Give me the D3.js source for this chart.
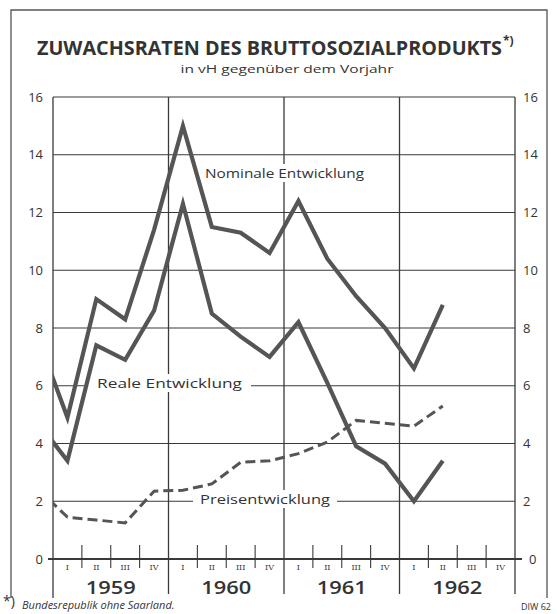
<!DOCTYPE html>
<html>
<head>
<meta charset="utf-8">
<script src="https://cdn.jsdelivr.net/npm/d3@7"></script>
<style>
  body { margin: 0; background: #fff; }
  svg { display: block; font-family: "Open Sans", "DejaVu Sans", sans-serif; }
</style>
</head>
<body>
<div id="chart"></div>
<script>
// quarters, 1958 IV (clipped at the left edge) to 1962 II
var quarters = ["1958 IV", "1959 I", "1959 II", "1959 III", "1959 IV",
  "1960 I", "1960 II", "1960 III", "1960 IV",
  "1961 I", "1961 II", "1961 III", "1961 IV",
  "1962 I", "1962 II"];
var nominal = [7.6, 4.9, 9.0, 8.3, 11.4, 15.0, 11.5, 11.3, 10.6, 12.4, 10.4, 9.1, 8.0, 6.6, 8.8];
var real = [4.7, 3.4, 7.4, 6.9, 8.6, 12.3, 8.5, 7.7, 7.0, 8.2, 6.1, 3.9, 3.3, 2.0, 3.4];
var prices = [2.4, 1.45, 1.35, 1.25, 2.35, 2.38, 2.6, 3.35, 3.4, 3.65, 4.05, 4.8, 4.7, 4.6, 5.3];
var years = ["1959", "1960", "1961", "1962"];
var quarterLabels = ["I", "II", "III", "IV"];
var yTicks = [0, 2, 4, 6, 8, 10, 12, 14, 16];

const width = 557, height = 614;
const plotLeft = 53, plotRight = 515, plotTop = 97, plotBottom = 559;

var svg = d3.select("#chart").append("svg")
  .attr("width", width)
  .attr("height", height);

// x: quarter index, 0 = start of 1959
var x = d3.scaleLinear().domain([0, 16]).range([plotLeft, plotRight]);
var y = d3.scaleLinear().domain([0, 16]).range([plotBottom, plotTop]);

var ink = "#3a3a3a";

// outer frame
svg.append("path")
  .attr("d", "M11,598 L11,10 L547,10 L547,598")
  .attr("fill", "none").attr("stroke", "#555").attr("stroke-width", 1.3);

// title
svg.append("text")
  .attr("x", 37).attr("y", 55)
  .attr("textLength", 465).attr("lengthAdjust", "spacingAndGlyphs")
  .attr("font-size", 19).attr("font-weight", 700).attr("fill", "#333")
  .text("ZUWACHSRATEN DES BRUTTOSOZIALPRODUKTS");
svg.append("text")
  .attr("x", 503).attr("y", 45)
  .attr("font-size", 12).attr("font-weight", 700).attr("fill", "#333")
  .text("*)");
svg.append("text")
  .attr("x", 287).attr("y", 73)
  .attr("text-anchor", "middle")
  .attr("textLength", 213).attr("lengthAdjust", "spacingAndGlyphs")
  .attr("font-size", 11.5).attr("fill", "#333")
  .text("in vH gegenüber dem Vorjahr");

// horizontal grid
svg.append("g").selectAll("line")
  .data(yTicks.filter(d => d > 0))
  .join("line")
  .attr("x1", plotLeft).attr("x2", plotRight)
  .attr("y1", d => y(d)).attr("y2", d => y(d))
  .attr("stroke", ink).attr("stroke-width", 1.1);

// vertical year lines
svg.append("g").selectAll("line")
  .data(d3.range(0, 17, 4))
  .join("line")
  .attr("x1", d => x(d)).attr("x2", d => x(d))
  .attr("y1", plotTop).attr("y2", d => d === 0 ? 598 : 594)
  .attr("stroke", ink).attr("stroke-width", 1.3);

// zero line
svg.append("line")
  .attr("x1", plotLeft - 5).attr("x2", plotRight + 7)
  .attr("y1", y(0)).attr("y2", y(0))
  .attr("stroke", ink).attr("stroke-width", 2.2);

// quarter ticks
svg.append("g").selectAll("line")
  .data(d3.range(1, 16).filter(d => d % 4 !== 0))
  .join("line")
  .attr("x1", d => x(d)).attr("x2", d => x(d))
  .attr("y1", y(0) - 14).attr("y2", y(0) + 9)
  .attr("stroke", ink).attr("stroke-width", 1.1);

// quarter labels
svg.append("g").selectAll("text")
  .data(d3.range(16))
  .join("text")
  .attr("x", d => x(d + 0.5)).attr("y", y(0) + 11)
  .attr("text-anchor", "middle")
  .attr("font-family", "'DejaVu Serif', serif")
  .attr("font-size", 8).attr("fill", ink)
  .text(d => quarterLabels[d % 4]);

// year labels
svg.append("g").selectAll("text")
  .data(years)
  .join("text")
  .attr("x", (d, i) => x(i * 4 + 2)).attr("y", 594)
  .attr("text-anchor", "middle")
  .attr("textLength", 50).attr("lengthAdjust", "spacingAndGlyphs")
  .attr("font-size", 18).attr("font-weight", 600).attr("fill", "#333")
  .text(d => d);

// y axes (labels only)
var yAxisL = d3.axisLeft(y).tickValues(yTicks).tickSize(0).tickPadding(10);
var yAxisR = d3.axisRight(y).tickValues(yTicks).tickSize(0).tickPadding(8);
var gl = svg.append("g").attr("transform", "translate(" + plotLeft + ",0)").call(yAxisL);
var gr = svg.append("g").attr("transform", "translate(" + plotRight + ",0)").call(yAxisR);
[gl, gr].forEach(function(g) {
  g.select(".domain").remove();
  g.selectAll("text").attr("font-size", 13).attr("fill", "#333")
    .attr("font-family", "'Open Sans', sans-serif");
});
gr.selectAll("text").filter(d => d === 0).attr("dx", 6);

// series labels with white backing
function seriesLabel(text, x0, base, len, pad) {
  svg.append("rect")
    .attr("x", x0 - pad).attr("y", base - 14)
    .attr("width", len + 2 * pad).attr("height", 18)
    .attr("fill", "#fff");
  svg.append("text")
    .attr("x", x0).attr("y", base)
    .attr("textLength", len).attr("lengthAdjust", "spacingAndGlyphs")
    .attr("font-size", 13.5).attr("fill", "#333")
    .text(text);
}
seriesLabel("Nominale Entwicklung", 205, 178, 159, 4);
seriesLabel("Reale Entwicklung", 97, 388, 145, 9);
seriesLabel("Preisentwicklung", 200, 504, 130, 7);

// data lines
svg.append("clipPath").attr("id", "plotclip")
  .append("rect").attr("x", plotLeft).attr("y", 0)
  .attr("width", plotRight - plotLeft).attr("height", height);

var line = d3.line()
  .x((d, i) => x(i - 0.5))
  .y(d => y(d));

var plot = svg.append("g").attr("clip-path", "url(#plotclip)");
plot.append("path").datum(nominal)
  .attr("d", line).attr("fill", "none")
  .attr("stroke", "#555").attr("stroke-width", 4.2).attr("stroke-linejoin", "miter");
plot.append("path").datum(real)
  .attr("d", line).attr("fill", "none")
  .attr("stroke", "#555").attr("stroke-width", 4.2).attr("stroke-linejoin", "miter");
plot.append("path").datum(prices)
  .attr("d", line).attr("fill", "none")
  .attr("stroke", "#555").attr("stroke-width", 3).attr("stroke-dasharray", "10,5");

// footnote
svg.append("text")
  .attr("x", 3).attr("y", 606)
  .attr("font-size", 14).attr("fill", "#333")
  .text("*)");
svg.append("text")
  .attr("x", 22).attr("y", 609)
  .attr("font-size", 11).attr("font-style", "italic").attr("fill", "#333")
  .text("Bundesrepublik ohne Saarland.");
svg.append("text")
  .attr("x", 551).attr("y", 610)
  .attr("text-anchor", "end")
  .attr("font-size", 9).attr("fill", "#333")
  .text("DIW 62");
</script>
</body>
</html>
